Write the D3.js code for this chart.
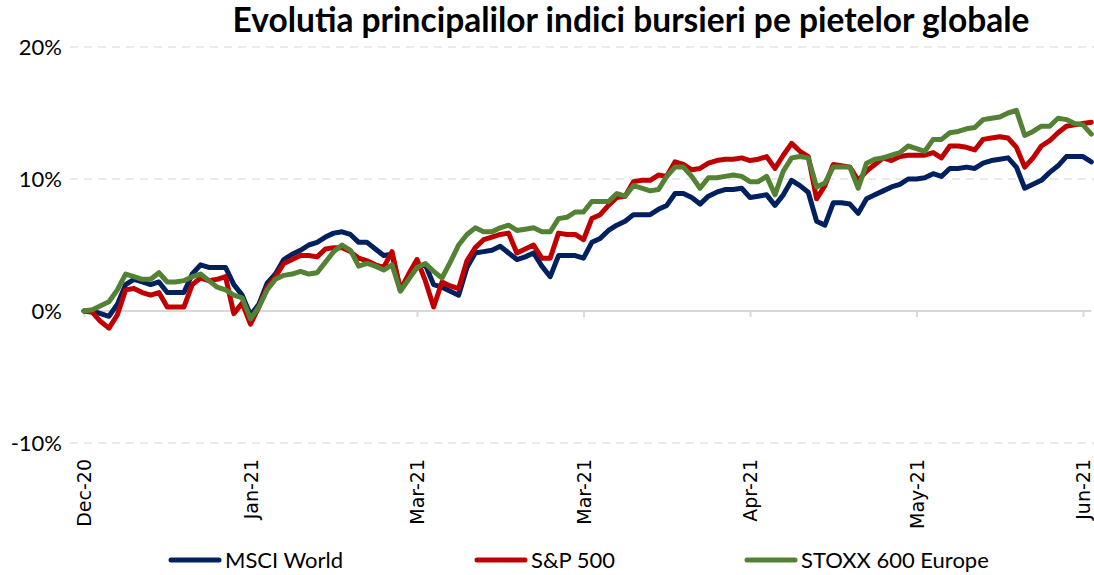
<!DOCTYPE html>
<html>
<head>
<meta charset="utf-8">
<script src="https://cdn.jsdelivr.net/npm/d3@7"></script>
<style>
  body { margin: 0; background: #fff; }
</style>
</head>
<body>
<div id="chart"></div>
<script>
// Tick labels of the category axis (one every 20 points)
let tickLabels = ["Dec-20", "Jan-21", "Mar-21", "Mar-21", "Apr-21", "May-21", "Jun-21"];
let tickEvery = 20;

let seriesNames = ["MSCI World", "S&P 500", "STOXX 600 Europe"];

// Cumulative performance, %
let msciWorld = [0, 0.0, -0.2, -0.4, 0.5, 2.0, 2.4, 2.2, 2.0, 2.2,
  1.4, 1.4, 1.4, 2.8, 3.5, 3.3, 3.3, 3.3, 2.0, 1.2,
  -0.3, 0.5, 2.1, 2.8, 3.9, 4.3, 4.6, 5.0, 5.2, 5.6,
  5.9, 6.0, 5.8, 5.2, 5.2, 4.7, 4.2, 4.3, 1.6, 2.5,
  3.3, 3.5, 2.0, 1.8, 1.5, 1.2, 3.3, 4.4, 4.5, 4.6,
  4.9, 4.4, 3.9, 4.1, 4.4, 3.4, 2.6, 4.2, 4.2, 4.2,
  4.0, 5.2, 5.5, 6.1, 6.5, 6.8, 7.3, 7.3, 7.3, 7.7,
  8.0, 8.9, 8.9, 8.6, 8.1, 8.7, 9.0, 9.2, 9.2, 9.3,
  8.6, 8.7, 8.8, 8.0, 8.8, 9.9, 9.5, 9.0, 6.8, 6.5,
  8.2, 8.2, 8.1, 7.4, 8.5, 8.8, 9.1, 9.4, 9.6, 10.0,
  10.0, 10.1, 10.4, 10.2, 10.8, 10.8, 10.9, 10.8, 11.2, 11.4,
  11.5, 11.6, 10.9, 9.3, 9.6, 9.9, 10.5, 11.0, 11.7, 11.7,
  11.7, 11.3];

let sp500 = [0, -0.1, -0.8, -1.3, -0.3, 1.6, 1.7, 1.4, 1.2, 1.4,
  0.3, 0.3, 0.3, 2.0, 2.5, 2.3, 2.4, 2.6, -0.2, 0.6,
  -1.0, 0.3, 1.8, 2.6, 3.6, 3.9, 4.2, 4.2, 4.1, 4.7,
  4.8, 4.8, 4.5, 4.0, 3.8, 3.5, 3.3, 4.5, 1.6, 2.8,
  3.9, 2.3, 0.3, 2.2, 1.9, 1.7, 3.8, 4.8, 5.4, 5.6,
  5.8, 5.9, 4.4, 4.7, 5.0, 4.0, 4.0, 5.9, 5.8, 5.8,
  5.4, 7.0, 7.3, 8.0, 8.6, 8.7, 9.8, 9.9, 9.9, 10.3,
  10.2, 11.3, 11.1, 10.7, 10.8, 11.2, 11.4, 11.5, 11.5, 11.6,
  11.4, 11.5, 11.7, 10.8, 11.8, 12.7, 12.1, 11.7, 8.5, 9.5,
  11.1, 11.0, 10.9, 9.9, 10.6, 11.1, 11.6, 11.4, 11.7, 11.8,
  11.8, 11.8, 12.0, 11.6, 12.5, 12.5, 12.4, 12.2, 13.0, 13.1,
  13.2, 13.1, 12.4, 10.9, 11.6, 12.5, 12.9, 13.5, 14.0, 14.1,
  14.2, 14.3];

let stoxx600 = [0, 0.1, 0.4, 0.7, 1.6, 2.8, 2.6, 2.4, 2.4, 2.9,
  2.2, 2.2, 2.3, 2.6, 2.8, 2.3, 1.8, 1.6, 1.2, 1.0,
  -0.6, 0.3, 1.6, 2.4, 2.7, 2.8, 3.0, 2.8, 2.9, 3.7,
  4.5, 5.0, 4.6, 3.4, 3.6, 3.4, 3.1, 3.5, 1.5, 2.4,
  3.3, 3.6, 3.0, 2.5, 3.7, 5.0, 5.8, 6.3, 6.0, 6.0,
  6.3, 6.5, 6.1, 6.2, 6.3, 6.0, 6.0, 7.0, 7.1, 7.5,
  7.5, 8.3, 8.3, 8.3, 8.9, 8.7, 9.5, 9.3, 9.1, 9.2,
  10.2, 10.9, 10.9, 10.2, 9.3, 10.1, 10.1, 10.2, 10.3, 10.2,
  9.8, 9.8, 10.2, 8.8, 10.6, 11.6, 11.7, 11.6, 9.4, 9.7,
  10.9, 10.9, 10.9, 9.3, 11.2, 11.5, 11.6, 11.8, 12.0, 12.5,
  12.3, 12.1, 13.0, 13.0, 13.5, 13.6, 13.8, 13.9, 14.5, 14.6,
  14.7, 15.0, 15.2, 13.3, 13.6, 14.0, 14.0, 14.6, 14.5, 14.2,
  14.1, 13.4];

let yTicks = [-10, 0, 10, 20];

let colors = ["#002060", "#C00000", "#548235"];

// svg attributes
let svgWidth = 1094;
let svgHeight = 575;

let svg = d3.select("#chart")
  .append("svg")
  .attr("width", svgWidth)
  .attr("height", svgHeight);

let xScale = d3.scaleLinear()
  .domain([0, msciWorld.length - 1])
  .range([84, 84 + 8.325 * (msciWorld.length - 1)]);

let yScale = d3.scaleLinear()
  .domain([-10, 20])
  .range([443, 47]);

// title
svg.append("text")
  .attr("x", 631)
  .attr("y", 32)
  .attr("text-anchor", "middle")
  .style("font-family", "Lato, sans-serif")
  .style("font-weight", "bold")
  .style("font-size", "33.5px")
  .text("Evolutia principalilor indici bursieri pe pietelor globale");

// gridlines (dashed) - 0 is drawn as the axis line
svg.append("g")
  .selectAll("line")
  .data(yTicks.filter(d => d !== 0))
  .enter()
  .append("line")
  .attr("x1", 70)
  .attr("x2", 1094)
  .attr("y1", d => yScale(d))
  .attr("y2", d => yScale(d))
  .attr("stroke", "#e3e3e3")
  .attr("stroke-width", 1.3)
  .attr("stroke-dasharray", "8,6");

// y labels
svg.append("g")
  .selectAll("text")
  .data(yTicks)
  .enter()
  .append("text")
  .attr("x", 62)
  .attr("y", d => yScale(d))
  .attr("dy", "0.36em")
  .attr("text-anchor", "end")
  .style("font-family", "Lato, sans-serif")
  .style("font-size", "22px")
  .text(d => d + "%");

// x axis at 0
let xAxis = d3.axisBottom(xScale)
  .tickValues(d3.range(0, msciWorld.length, tickEvery))
  .tickSize(6)
  .tickFormat((d, i) => tickLabels[i]);

let axisG = svg.append("g")
  .attr("transform", `translate(0,${yScale(0)})`)
  .call(xAxis);

axisG.select(".domain")
  .attr("d", `M${xScale(0)},0H${xScale(msciWorld.length - 1)}`)
  .attr("stroke", "#d9d9d9")
  .attr("stroke-width", 2);

axisG.selectAll(".tick line")
  .attr("stroke", "#d9d9d9")
  .attr("stroke-width", 2);

// labels pushed down below the plot and rotated
axisG.selectAll(".tick text")
  .attr("transform", `translate(0,${yScale(-10) - yScale(0) + 16}) rotate(-90)`)
  .attr("x", 0)
  .attr("y", 0)
  .attr("dy", "0.35em")
  .attr("text-anchor", "end")
  .style("font-family", "'DejaVu Sans', sans-serif")
  .style("font-size", "19px")
  .attr("fill", "#000");

// lines
let line = d3.line()
  .x((d, i) => xScale(i))
  .y(d => yScale(d));

let allSeries = [msciWorld, sp500, stoxx600];

svg.append("g")
  .selectAll("path")
  .data(allSeries)
  .enter()
  .append("path")
  .attr("d", d => line(d))
  .attr("fill", "none")
  .attr("stroke", (d, i) => colors[i])
  .attr("stroke-width", 5)
  .attr("stroke-linejoin", "round")
  .attr("stroke-linecap", "round");

// legend
let legendX = [171, 477, 747];
let legend = svg.append("g")
  .selectAll("g")
  .data(seriesNames)
  .enter()
  .append("g")
  .attr("transform", (d, i) => `translate(${legendX[i]},560)`);

legend.append("line")
  .attr("x1", 0)
  .attr("x2", 48)
  .attr("stroke", (d, i) => colors[i])
  .attr("stroke-width", 5)
  .attr("stroke-linecap", "round");

legend.append("text")
  .attr("x", 54)
  .attr("dy", "0.36em")
  .style("font-family", "Lato, sans-serif")
  .style("font-size", "22px")
  .text(d => d);
</script>
</body>
</html>
